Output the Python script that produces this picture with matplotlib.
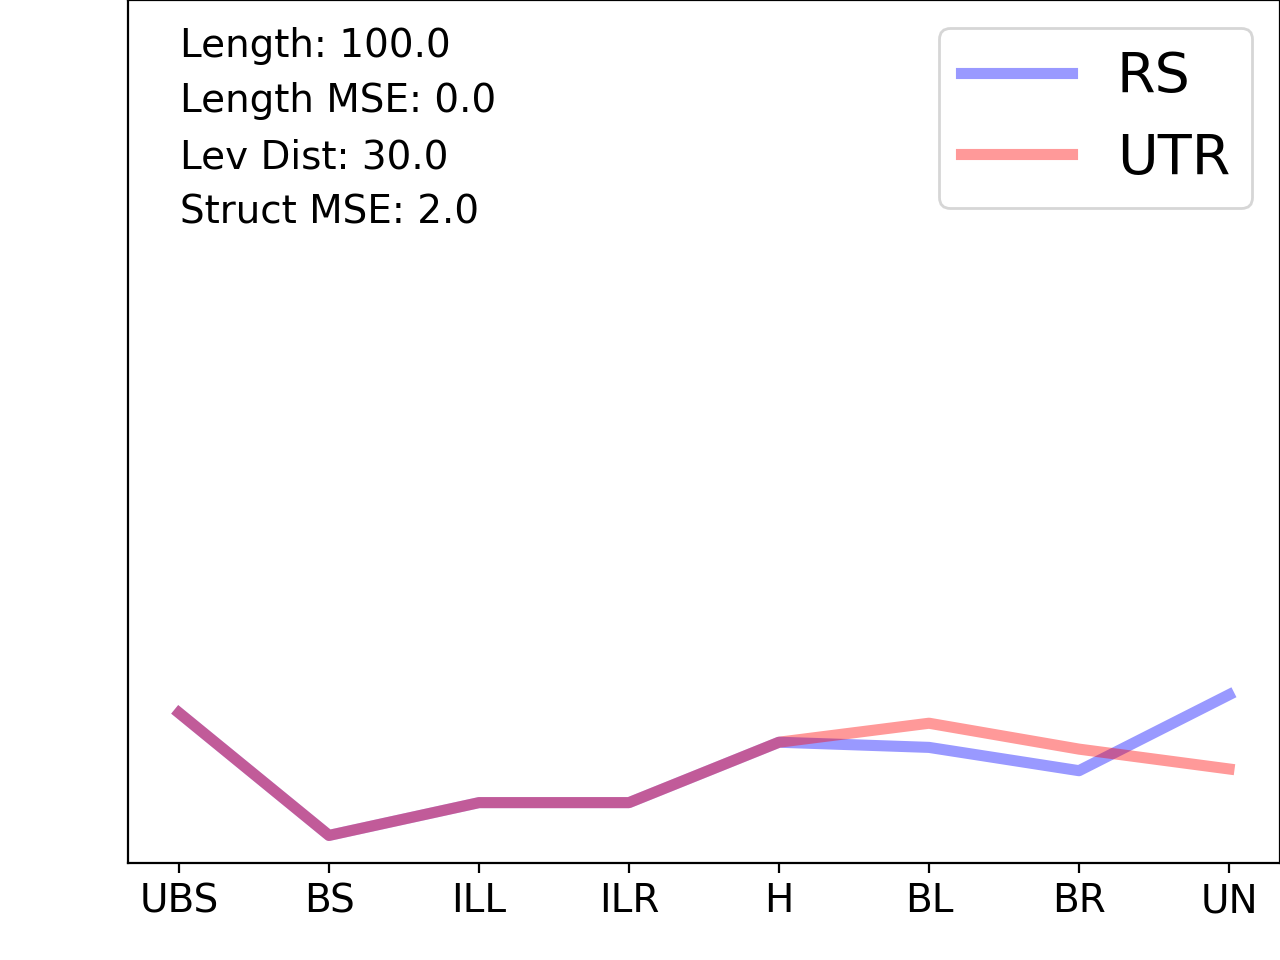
import matplotlib
matplotlib.use("Agg")
import matplotlib.pyplot as plt

categories = ["UBS", "BS", "ILL", "ILR", "H", "BL", "BR", "UN"]
rs_values = [17.4, 3.2, 7.0, 7.0, 14.0, 13.4, 10.7, 19.5]
utr_values = [17.4, 3.2, 7.0, 7.0, 14.0, 16.2, 13.2, 10.9]
info_lines = ["Length: 100.0", "Length MSE: 0.0", "Lev Dist: 30.0", "Struct MSE: 2.0"]

fig = plt.figure(figsize=(6.4, 4.8), dpi=200)
ax = fig.add_axes([0.1, 0.101, 0.9, 0.899])
x = list(range(len(categories)))
ax.plot(x, rs_values, color="blue", alpha=0.4, linewidth=4, label="RS")
ax.plot(x, utr_values, color="red", alpha=0.4, linewidth=4, label="UTR")
ax.set_xticks(x)
ax.set_xticklabels(categories, fontsize=14)
ax.set_yticks([])
ax.set_ylim(0, 100)
ax.set_xlim(-0.34, 7.34)
ax.legend(loc="upper right", fontsize=20)

ys = [0.934, 0.870, 0.805, 0.741]
for t, yy in zip(info_lines, ys):
    ax.text(0.045, yy, t, transform=ax.transAxes, fontsize=14, va="baseline", ha="left")

fig.savefig("out.png", dpi=200)
